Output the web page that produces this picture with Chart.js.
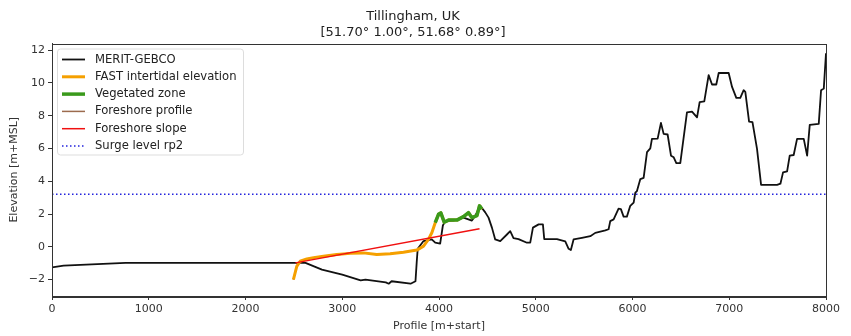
<!DOCTYPE html>
<html>
<head>
<meta charset="utf-8">
<script src="https://cdn.jsdelivr.net/npm/chart.js@4/dist/chart.umd.min.js"></script>
<style>
  html, body { margin: 0; padding: 0; background: #fff; }
  #wrap { width: 851px; height: 336px; }
</style>
</head>
<body>
<div id="wrap"><canvas id="profileChart" width="851" height="336"></canvas></div>
<script>
// profile data
const meritX = [0, 120, 760, 2620, 2790, 3000, 3190, 3240, 3450, 3480, 3510, 3706, 3757, 3770, 3780, 3840, 3925, 3961, 4012, 4040, 4064, 4150, 4253, 4340, 4375, 4426, 4478, 4512, 4547, 4581, 4633, 4702, 4736, 4770, 4822, 4909, 4943, 4971, 5030, 5074, 5088, 5219, 5305, 5340, 5363, 5391, 5477, 5564, 5615, 5719, 5753, 5770, 5805, 5856, 5880, 5908, 5942, 5977, 6012, 6029, 6046, 6081, 6115, 6150, 6184, 6201, 6260, 6294, 6322, 6363, 6398, 6426, 6453, 6494, 6563, 6615, 6667, 6694, 6742, 6787, 6822, 6866, 6891, 6994, 7029, 7073, 7114, 7149, 7166, 7205, 7240, 7287, 7329, 7494, 7529, 7556, 7598, 7625, 7666, 7701, 7770, 7805, 7832, 7925, 7949, 7977, 8000];
const meritY = [-1.25, -1.15, -0.98, -0.98, -1.39, -1.7, -2.05, -2.0, -2.17, -2.25, -2.1, -2.25, -2.1, -0.9, -0.12, 0.35, 0.45, 0.25, 0.2, 1.3, 1.57, 1.6, 1.78, 1.6, 1.9, 2.5, 2.1, 1.78, 1.17, 0.45, 0.35, 0.75, 0.95, 0.53, 0.47, 0.25, 0.25, 1.17, 1.37, 1.37, 0.47, 0.47, 0.33, -0.12, -0.2, 0.45, 0.55, 0.65, 0.85, 1.0, 1.07, 1.57, 1.67, 2.33, 2.3, 1.84, 1.84, 2.5, 2.7, 3.3, 3.4, 4.13, 4.2, 5.77, 6.0, 6.58, 6.6, 7.56, 6.89, 6.85, 5.56, 5.46, 5.1, 5.1, 8.2, 8.24, 7.9, 8.83, 8.87, 10.47, 9.9, 9.9, 10.6, 10.6, 9.75, 9.08, 9.08, 9.55, 9.45, 7.64, 7.6, 5.97, 3.78, 3.78, 3.85, 4.54, 4.6, 5.56, 5.6, 6.58, 6.58, 5.56, 7.44, 7.5, 9.55, 9.65, 11.8];

const fastX = [2495, 2530, 2565, 2634, 2703, 2806, 2944, 3082, 3219, 3357, 3495, 3633, 3771, 3840, 3891, 3926, 3961, 3995, 4019, 4054, 4099, 4185, 4253, 4305, 4340, 4392, 4419, 4443];
const fastY = [-2.0, -1.19, -0.88, -0.74, -0.66, -0.58, -0.47, -0.4, -0.37, -0.47, -0.42, -0.33, -0.2, 0.04, 0.45, 0.86, 1.47, 1.98, 2.07, 1.5, 1.63, 1.63, 1.84, 2.08, 1.78, 1.9, 2.5, 2.3];

const vegX = [3961, 3995, 4019, 4054, 4099, 4185, 4253, 4305, 4340, 4392, 4419, 4443];
const vegY = [1.47, 1.98, 2.07, 1.5, 1.63, 1.63, 1.84, 2.08, 1.78, 1.9, 2.5, 2.3];

const profX = [2495, 2530, 2565, 2634, 2703, 2806, 2944, 3082, 3219, 3357, 3495, 3633, 3771, 3840, 3891, 3926];
const profY = [-2.0, -1.19, -0.88, -0.74, -0.66, -0.58, -0.47, -0.4, -0.37, -0.47, -0.42, -0.33, -0.2, 0.04, 0.45, 0.86];

const slopeX = [2516, 4419];
const slopeY = [-0.98, 1.1];

const surgeX = [0, 8000];
const surgeY = [3.2, 3.2];

const xTicks = [0, 1000, 2000, 3000, 4000, 5000, 6000, 7000, 8000];
const yTicks = [-2, 0, 2, 4, 6, 8, 10, 12];

const titleLines = ['Tillingham, UK', '[51.70\u00b0 1.00\u00b0, 51.68\u00b0 0.89\u00b0]'];

function pts(xs, ys) {
  return xs.map((x, i) => ({ x: x, y: ys[i] }));
}

// matplotlib style box + legend inside the axes
const frameAndLegend = {
  id: 'frameAndLegend',
  afterDatasetsDraw(chart) {
    const c = chart.ctx;
    const a = chart.chartArea;
    c.save();
    c.strokeStyle = '#333';
    c.lineWidth = 1;
    c.strokeRect(Math.round(a.left) + 0.5, Math.round(a.top) + 0.5, Math.round(a.right - a.left), Math.round(a.bottom - a.top));

    const bx = a.left + 5, by = a.top + 5, bw = 186, bh = 106, row = 17.3;
    c.fillStyle = 'rgba(255,255,255,0.85)';
    c.strokeStyle = '#ddd';
    c.beginPath();
    c.roundRect(bx + 0.5, by + 0.5, bw, bh, 3);
    c.fill();
    c.stroke();

    c.font = '11.6px "DejaVu Sans"';
    c.textBaseline = 'middle';
    chart.data.datasets.forEach((ds, i) => {
      const y = by + 11 + i * row;
      c.beginPath();
      c.strokeStyle = ds.borderColor;
      c.lineWidth = ds.borderWidth;
      c.setLineDash(ds.borderDash || []);
      c.moveTo(bx + 5, y);
      c.lineTo(bx + 28, y);
      c.stroke();
      c.setLineDash([]);
      c.fillStyle = '#222';
      c.fillText(ds.label, bx + 38, y);
    });
    c.restore();
  }
};

const ctx = document.getElementById('profileChart').getContext('2d');
new Chart(ctx, {
  type: 'line',
  data: {
    datasets: [{
      label: 'MERIT-GEBCO',
      data: pts(meritX, meritY),
      borderColor: '#111',
      borderWidth: 1.8,
      order: 6
    }, {
      label: 'FAST intertidal elevation',
      data: pts(fastX, fastY),
      borderColor: '#f5a000',
      borderWidth: 3,
      order: 5
    }, {
      label: 'Vegetated zone',
      data: pts(vegX, vegY),
      borderColor: '#3a9a1c',
      borderWidth: 3.5,
      order: 4
    }, {
      label: 'Foreshore profile',
      data: pts(profX, profY),
      borderColor: '#9c6b4e',
      borderWidth: 1.5,
      order: 7
    }, {
      label: 'Foreshore slope',
      data: pts(slopeX, slopeY),
      borderColor: '#f01010',
      borderWidth: 1.5,
      order: 2
    }, {
      label: 'Surge level rp2',
      data: pts(surgeX, surgeY),
      borderColor: '#2222dd',
      borderWidth: 1.5,
      borderDash: [1.5, 2.5],
      order: 1
    }]
  },
  options: {
    responsive: false,
    animation: false,
    layout: { padding: { left: 0, right: 25, top: 0, bottom: 0 } },
    elements: {
      point: { radius: 0 },
      line: { tension: 0, fill: false, borderJoinStyle: 'round' }
    },
    plugins: {
      legend: { display: false },
      tooltip: { enabled: false },
      title: {
        display: true,
        text: titleLines,
        color: '#222',
        font: { family: 'DejaVu Sans', size: 13, weight: 'normal', lineHeight: 1.25 },
        padding: { top: 8, bottom: 3 }
      }
    },
    scales: {
      x: {
        type: 'linear',
        min: 0,
        max: 8000,
        afterBuildTicks: s => { s.ticks = xTicks.map(v => ({ value: v })); },
        afterFit: s => { s.height = 40; },
        ticks: {
          color: '#333',
          font: { family: 'DejaVu Sans', size: 11 },
          padding: 3,
          maxRotation: 0,
          callback: v => String(v)
        },
        grid: { drawOnChartArea: false, drawTicks: true, tickLength: 4, color: '#333' },
        border: { color: '#333' },
        title: {
          display: true,
          text: 'Profile [m+start]',
          color: '#333',
          font: { family: 'DejaVu Sans', size: 11 },
          padding: { top: 0, bottom: 3 }
        }
      },
      y: {
        type: 'linear',
        min: -3,
        max: 12.4,
        afterBuildTicks: s => { s.ticks = yTicks.map(v => ({ value: v })); },
        afterFit: s => { s.width = 52; },
        ticks: {
          color: '#333',
          font: { family: 'DejaVu Sans', size: 11 },
          padding: 3,
          callback: v => (v < 0 ? '\u2212' + Math.abs(v) : String(v))
        },
        grid: { drawOnChartArea: false, drawTicks: true, tickLength: 4, color: '#333' },
        border: { color: '#333' },
        title: {
          display: true,
          text: 'Elevation [m+MSL]',
          color: '#333',
          font: { family: 'DejaVu Sans', size: 11 },
          padding: { top: 8, bottom: 0 }
        }
      }
    }
  },
  plugins: [frameAndLegend]
});
</script>
</body>
</html>
